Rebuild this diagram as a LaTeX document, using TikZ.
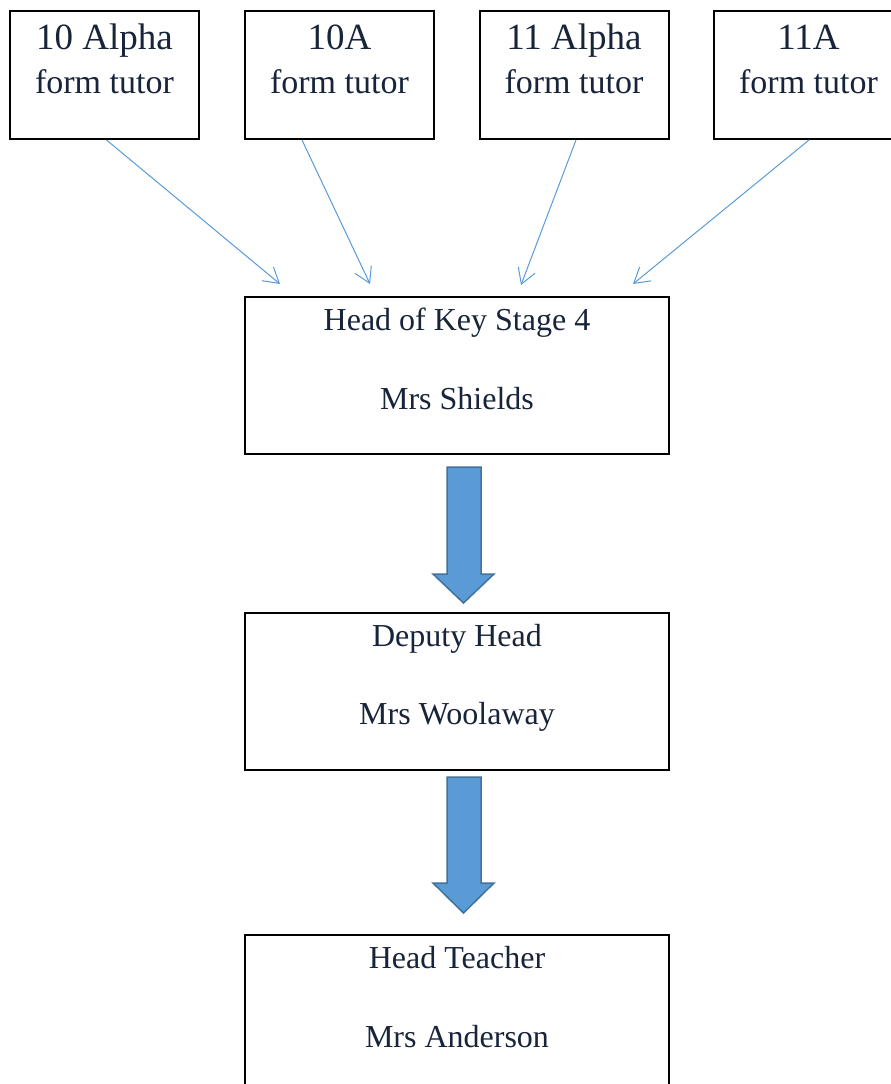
\documentclass[tikz,border=0pt]{standalone}
\usepackage{fontspec}
\setmainfont{Liberation Serif}
\usetikzlibrary{arrows.meta,calc}
\definecolor{txt}{HTML}{18243A}
\definecolor{thin}{HTML}{5B9BD5}
\definecolor{blockfill}{HTML}{5B9BD5}
\definecolor{blockline}{HTML}{41719C}
\tikzset{
  box/.style={draw=black, line width=2.2pt, minimum width=#1, inner sep=0pt, outer sep=0pt},
  topbox/.style={box=189pt, minimum height=128pt},
  bigbox/.style={box=424pt, minimum height=157pt},
  tline/.style={anchor=base, inner sep=0pt, text=txt, font=\fontsize{37}{40}\selectfont},
  sline/.style={anchor=base, inner sep=0pt, text=txt, font=\fontsize{34}{40}\selectfont},
  bline/.style={anchor=base, inner sep=0pt, text=txt, font=\fontsize{32}{38}\selectfont},
  feed/.style={draw=thin, line width=1pt, -{Straight Barb[length=15pt,width=18pt]}},
  blockarrow/.style={fill=blockfill, draw=blockline, line width=1.5pt, line join=miter}
}
\begin{document}
\begin{tikzpicture}[x=1pt,y=-1pt]
\path[use as bounding box, clip] (0,0) rectangle (891,1084);
\fill[white] (0,0) rectangle (891,1084);
% top boxes
\node[topbox] (b1) at (104.5,75) {};
\node[topbox] (b2) at (339.5,75) {};
\node[topbox] (b3) at (574.5,75) {};
\node[topbox] (b4) at (808.5,75) {};
\node[tline] (b1a) at (104.5,49) {10 Alpha};
\node[sline] (b1b) at (104.5,93) {form tutor};
\node[tline] (b2a) at (339.5,49) {10A};
\node[sline] (b2b) at (339.5,93) {form tutor};
\node[tline] (b3a) at (574,49) {11 Alpha};
\node[sline] (b3b) at (574,93) {form tutor};
\node[tline] (b4a) at (808.5,49) {11A};
\node[sline] (b4b) at (808.5,93) {form tutor};
% big boxes
\node[bigbox] (ks4) at (457,375.5) {};
\node[bline] (ks4a) at (457,330) {Head of Key Stage 4};
\node[bline] (ks4b) at (457,409) {Mrs Shields};
\node[bigbox] (dep) at (457,691.5) {};
\node[bline] (depa) at (457,646) {Deputy Head};
\node[bline] (depb) at (457,724) {Mrs Woolaway};
\node[bigbox] (ht) at (457,1013.5) {};
\node[bline] (hta) at (457,968) {Head Teacher};
\node[bline] (htb) at (457,1047) {Mrs Anderson};
% arrow ends
\coordinate (e1) at (280,284);
\coordinate (e2) at (370,284);
\coordinate (e3) at (521,285);
\coordinate (e4) at (633,284);
\draw[feed] ($(b1.south)+(2,1)$) -- (e1);
\draw[feed] ($(b2.south)+(-37.5,1)$) -- (e2);
\draw[feed] ($(b3.south)+(1.5,1)$) -- (e3);
\draw[feed] ($(b4.south)+(0.5,1)$) -- (e4);
% block arrows
\draw[blockarrow] (447,467) -- (481,467) -- (481,574) -- (494,574) -- (463.5,603) -- (433,574) -- (447,574) -- cycle;
\draw[blockarrow] (447,777) -- (481,777) -- (481,883) -- (494,883) -- (463.5,913) -- (433,883) -- (447,883) -- cycle;
\end{tikzpicture}
\end{document}
